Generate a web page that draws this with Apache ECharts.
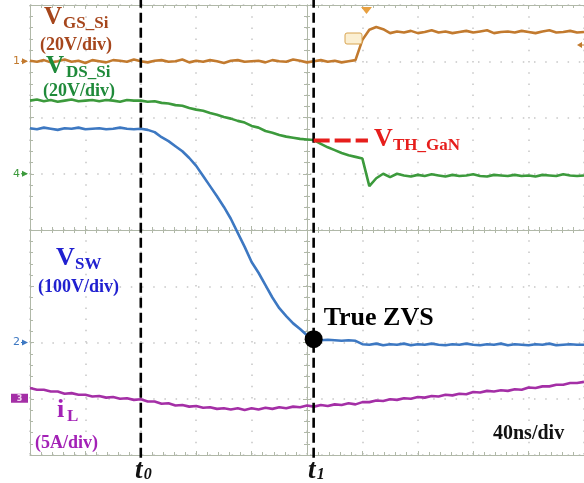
<!DOCTYPE html>
<html>
<head>
<meta charset="utf-8">
<script src="https://cdn.jsdelivr.net/npm/echarts@6/dist/echarts.min.js"></script>
<style>
  html, body { margin: 0; padding: 0; background: #fff; }
  #c { width: 584px; height: 483px; }
</style>
</head>
<body>
<div id="c"></div>
<script>
// Sample instants, in horizontal divisions from screen centre (40 ns/div)
const time = Array.from({ length: 81 }, (_, i) => -5 + i * 0.125);

// Traces, in vertical divisions from screen centre
const vgsSi = [
  3.01, 2.99, 3.02, 2.98, 3.00, 3.03, 2.99, 3.01, 2.97, 3.02,
  3.00, 2.98, 3.02, 3.01, 2.99, 3.03, 3.00, 2.98, 3.01, 3.02,
  2.99, 3.00, 3.03, 2.98, 3.01, 2.99, 3.02, 3.00, 2.97, 3.01,
  3.02, 2.99, 3.00, 3.01, 2.98, 3.02, 3.00, 2.99, 3.03, 3.01,
  2.98, 3.00, 3.02, 2.99, 3.01, 2.98, 3.00, 3.02, 3.38, 3.56,
  3.61, 3.57, 3.50, 3.53, 3.51, 3.54, 3.50, 3.52, 3.55, 3.51,
  3.53, 3.50, 3.52, 3.54, 3.51, 3.53, 3.55, 3.50, 3.52, 3.53,
  3.51, 3.54, 3.52, 3.50, 3.53, 3.55, 3.51, 3.52, 3.54, 3.51,
  3.52
];
const vdsSi = [
  2.30, 2.32, 2.29, 2.31, 2.28, 2.30, 2.32, 2.29, 2.30, 2.31,
  2.29, 2.31, 2.30, 2.28, 2.31, 2.30, 2.30, 2.28, 2.29, 2.26,
  2.25, 2.22, 2.21, 2.17, 2.14, 2.12, 2.08, 2.05, 2.01, 1.98,
  1.94, 1.91, 1.85, 1.82, 1.76, 1.73, 1.69, 1.66, 1.64, 1.62,
  1.61, 1.60, 1.53, 1.47, 1.42, 1.37, 1.33, 1.30, 1.27, 0.78,
  0.92, 1.00, 0.94, 1.00, 0.97, 0.95, 0.98, 0.96, 0.99, 0.97,
  0.95, 0.98, 0.96, 0.97, 0.99, 0.96, 0.95, 0.98, 0.97, 0.96,
  0.98, 0.96, 0.97, 0.95, 0.98, 0.97, 0.96, 0.99, 0.97, 0.96,
  0.97
];
const vSw = [
  1.81, 1.79, 1.82, 1.80, 1.78, 1.81, 1.80, 1.82, 1.79, 1.80,
  1.81, 1.79, 1.80, 1.82, 1.80, 1.79, 1.80, 1.78, 1.74, 1.65,
  1.58, 1.49, 1.40, 1.28, 1.14, 0.96, 0.78, 0.60, 0.41, 0.20,
  -0.05, -0.30, -0.57, -0.76, -0.98, -1.20, -1.39, -1.53, -1.66, -1.76,
  -1.87, -1.94, -1.96, -1.95, -1.96, -1.97, -1.96, -1.97, -2.03, -2.04,
  -2.02, -2.05, -2.03, -2.04, -2.02, -2.05, -2.03, -2.04, -2.02, -2.04,
  -2.05, -2.03, -2.04, -2.02, -2.04, -2.05, -2.03, -2.04, -2.02, -2.05,
  -2.03, -2.04, -2.05, -2.03, -2.04, -2.02, -2.05, -2.04, -2.03, -2.04,
  -2.04
];
const iL = [
  -2.81, -2.84, -2.84, -2.87, -2.87, -2.91, -2.90, -2.93, -2.93, -2.96,
  -2.95, -2.98, -2.97, -3.00, -2.99, -3.02, -3.01, -3.05, -3.05, -3.09,
  -3.08, -3.12, -3.11, -3.14, -3.13, -3.16, -3.15, -3.18, -3.17, -3.19,
  -3.17, -3.20, -3.17, -3.19, -3.16, -3.18, -3.15, -3.17, -3.14, -3.15,
  -3.12, -3.14, -3.11, -3.13, -3.10, -3.11, -3.08, -3.10, -3.06, -3.06,
  -3.03, -3.04, -3.01, -3.02, -2.99, -3.00, -2.97, -2.98, -2.95, -2.96,
  -2.93, -2.94, -2.91, -2.92, -2.88, -2.89, -2.86, -2.87, -2.85, -2.86,
  -2.83, -2.84, -2.80, -2.81, -2.78, -2.78, -2.75, -2.75, -2.72, -2.72,
  -2.70
];

// Switching instants t0 and t1, and the vertical extent of their markers
const eventTimes = [-3.0, 0.12];
const eventSubs = ['0', '1'];
const eventSpan = [-4.05, 4.09];

// GaN threshold level marker and the zero-voltage point
const vthLevel = 1.59;
const vthEnd = 1.10;
const zvsPoint = [0.12, -1.94];

const SERIF = "'Liberation Serif', 'Times New Roman', serif";
const gridColor = '#b0b8a8';
const dotColor = '#c6c6c6';
const colors = {
  vgs: '#c27a2e', vds: '#3c9a3c', vsw: '#3d78c2', il: '#a42fa6',
  vgsText: '#a6461c', vdsText: '#1f8a3a', vswText: '#2020d0', ilText: '#a321b6',
  vth: '#e61e1c'
};

const pairs = ys => time.map((t, i) => [t, ys[i]]);

function tickSet(inside) {
  return {
    axisTick: { show: true, inside: inside, length: 4, lineStyle: { color: gridColor } },
    minorTick: { show: true, splitNumber: 5, length: 3, lineStyle: { color: gridColor } }
  };
}
function xAx(extra) {
  return Object.assign({
    type: 'value', min: -5, max: 5, interval: 1,
    axisLabel: { show: false }, splitLine: { show: false }
  }, extra);
}
function yAx(extra) {
  return Object.assign({
    type: 'value', min: -4, max: 4, interval: 1,
    axisLabel: { show: false }, splitLine: { show: false }
  }, extra);
}
const dotted = { show: true, lineStyle: { color: dotColor, width: 1.5, type: [1.5, 9.7] } };
const frameLine = onZero => ({ show: true, onZero: onZero, onZeroAxisIndex: 0, lineStyle: { color: gridColor, width: 1 } });

function trace(name, ys, color) {
  return {
    name, type: 'line', data: pairs(ys), showSymbol: false, symbol: 'none',
    lineStyle: { color, width: 2.6 }, z: 3, animation: false
  };
}

const chart = echarts.init(document.getElementById('c'), null, { renderer: 'canvas' });

const series = [
  trace('VGS_Si', vgsSi, colors.vgs),
  trace('VDS_Si', vdsSi, colors.vds),
  trace('VSW', vSw, colors.vsw),
  trace('iL', iL, colors.il)
];
eventTimes.forEach((t, k) => {
  series.push({
    name: 't' + eventSubs[k], type: 'line', data: eventSpan.map(y => [t, y]),
    symbol: 'none', clip: false, z: 5, animation: false,
    lineStyle: { color: '#000', width: 2.6, type: [10, 5] }
  });
});
series.push({
  name: 'VTH_GaN', type: 'line', data: [[eventTimes[1], vthLevel], [vthEnd, vthLevel]],
  symbol: 'none', z: 6, animation: false,
  lineStyle: { color: colors.vth, width: 4, type: [16, 5] }
});
series.push({
  name: 'True ZVS', type: 'scatter', data: [zvsPoint], symbolSize: 18, z: 7, animation: false,
  itemStyle: { color: '#000', opacity: 1 },
  label: {
    show: true, formatter: 'True ZVS', position: 'right', distance: 1, offset: [0, -21],
    fontFamily: SERIF, fontWeight: 'bold', fontSize: 26, color: '#000', opacity: 1
  }
});

chart.setOption({
  animation: false,
  backgroundColor: '#ffffff',
  grid: { left: 30, top: 5, width: 560, height: 450 },
  xAxis: [
    xAx(Object.assign({ position: 'bottom', axisLine: frameLine(false), splitLine: dotted }, tickSet(true))),
    xAx(Object.assign({ position: 'top', axisLine: frameLine(false) }, tickSet(true))),
    xAx(Object.assign({ position: 'bottom', axisLine: frameLine(true) }, tickSet(true))),
    xAx(Object.assign({ position: 'bottom', axisLine: frameLine(true) }, tickSet(false)))
  ],
  yAxis: [
    yAx(Object.assign({ position: 'left', axisLine: frameLine(false), splitLine: dotted }, tickSet(true))),
    yAx(Object.assign({ position: 'left', axisLine: frameLine(true) }, tickSet(true))),
    yAx(Object.assign({ position: 'left', axisLine: frameLine(true) }, tickSet(false)))
  ],
  series
});

// Text annotations
function txt(x, y, text, size, color, opts) {
  opts = opts || {};
  return {
    type: 'text', x, y, z: 20, silent: true,
    style: {
      text, fill: color, fontFamily: opts.family || SERIF,
      fontWeight: opts.weight || 'bold', fontStyle: opts.style || 'normal',
      fontSize: size, align: opts.align || 'left', verticalAlign: 'middle'
    }
  };
}
const toPx = (t, v) => chart.convertToPixel({ gridIndex: 0 }, [t, v]);

const g = [];
// Channel names and scales
g.push(txt(44, 18, 'V', 25, colors.vgsText));
g.push(txt(63, 24, 'GS_Si', 17, colors.vgsText));
g.push(txt(40, 45, '(20V/div)', 18, colors.vgsText));
g.push(txt(46, 67, 'V', 25, colors.vdsText));
g.push(txt(66, 73, 'DS_Si', 17, colors.vdsText));
g.push(txt(43, 91, '(20V/div)', 18, colors.vdsText));
g.push(txt(56, 258, 'V', 26, colors.vswText));
g.push(txt(75, 265, 'SW', 17, colors.vswText));
g.push(txt(38, 287, '(100V/div)', 18, colors.vswText));
g.push(txt(57, 410, 'i', 26, colors.ilText));
g.push(txt(67, 417, 'L', 17, colors.ilText));
g.push(txt(35, 443, '(5A/div)', 18, colors.ilText));
g.push(txt(493, 434, '40ns/div', 20, '#111'));

// Threshold label at the end of the red dashed marker
const vthPx = toPx(vthEnd, vthLevel);
g.push(txt(vthPx[0] + 6, vthPx[1] - 1, 'V', 26, colors.vth));
g.push(txt(vthPx[0] + 25, vthPx[1] + 5, 'TH_GaN', 17, colors.vth));

// t0 / t1 labels under the dashed markers
eventTimes.forEach((t, k) => {
  const p = toPx(t, -4);
  g.push(txt(p[0] - 2, 471, 't', 27, '#111', { style: 'italic', align: 'center' }));
  g.push(txt(p[0] + 3, 475, eventSubs[k], 16, '#111', { style: 'italic' }));
});

// Channel ground markers on the left edge
const SANS = "'DejaVu Sans', sans-serif";
function chMarker(level, label, color) {
  const p = toPx(-5, level);
  g.push(txt(p[0] - 10, p[1], label, 11, color, { family: SANS, weight: 'normal', align: 'right' }));
  g.push({ type: 'polygon', z: 20, silent: true,
    shape: { points: [[p[0] - 8, p[1] - 3], [p[0] - 2, p[1]], [p[0] - 8, p[1] + 3]] },
    style: { fill: color } });
  g.push({ type: 'line', z: 20, silent: true,
    shape: { x1: p[0] - 9, y1: p[1], x2: p[0] - 3, y2: p[1] }, style: { stroke: color, lineWidth: 1 } });
}
chMarker(3, '1', colors.vgs);
chMarker(1, '4', colors.vds);
chMarker(-2, '2', colors.vsw);
const ch3 = toPx(-5, -3);
g.push({ type: 'rect', z: 20, silent: true,
  shape: { x: ch3[0] - 19, y: ch3[1] - 5, width: 17, height: 9 }, style: { fill: colors.il } });
g.push(txt(ch3[0] - 10.5, ch3[1], '3', 8, '#f0d8f0', { family: SANS, align: 'center' }));

// Trigger position and level markers
g.push({ type: 'polygon', z: 20, silent: true,
  shape: { points: [[361, 7], [372, 7], [366.5, 14]] }, style: { fill: '#e8a040' } });
g.push({ type: 'rect', z: 20, silent: true,
  shape: { x: 345, y: 33, width: 17, height: 11, r: 2 },
  style: { fill: '#fbefd2', stroke: '#d8a450', lineWidth: 1 } });
g.push({ type: 'polygon', z: 20, silent: true,
  shape: { points: [[577, 45], [582, 42], [582, 48]] }, style: { fill: colors.vgs } });
g.push({ type: 'line', z: 20, silent: true,
  shape: { x1: 580, y1: 45, x2: 584, y2: 45 }, style: { stroke: colors.vgs, lineWidth: 1 } });

chart.setOption({ graphic: g });
</script>
</body>
</html>
